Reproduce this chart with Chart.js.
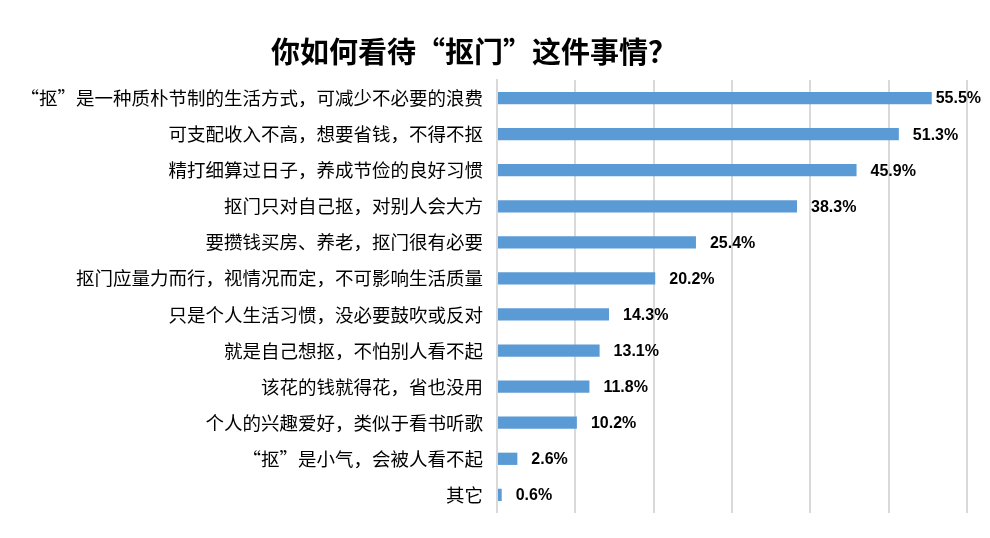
<!DOCTYPE html>
<html>
<head>
<meta charset="utf-8">
<script src="https://cdn.jsdelivr.net/npm/chart.js@4/dist/chart.umd.min.js"></script>
<style>
  body { margin: 0; background: #fff; }
  #wrap { width: 990px; height: 538px; position: relative; }
</style>
</head>
<body>
<div id="wrap"><canvas id="chart"></canvas></div>
<script>
// chart data
const chartTitle = '你如何看待“抠门”这件事情？';
const categories = [
  '“抠”是一种质朴节制的生活方式，可减少不必要的浪费',
  '可支配收入不高，想要省钱，不得不抠',
  '精打细算过日子，养成节俭的良好习惯',
  '抠门只对自己抠，对别人会大方',
  '要攒钱买房、养老，抠门很有必要',
  '抠门应量力而行，视情况而定，不可影响生活质量',
  '只是个人生活习惯，没必要鼓吹或反对',
  '就是自己想抠，不怕别人看不起',
  '该花的钱就得花，省也没用',
  '个人的兴趣爱好，类似于看书听歌',
  '“抠”是小气，会被人看不起',
  '其它'
];
const percentValues = [55.5, 51.3, 45.9, 38.3, 25.4, 20.2, 14.3, 13.1, 11.8, 10.2, 2.6, 0.6];
const axisMax = 60;
const axisStep = 10;

// draws the title and the value labels next to each bar
const labelPlugin = {
  id: 'barLabels',
  afterDraw(chart) {
    const ctx = chart.ctx;
    ctx.save();
    ctx.fillStyle = '#000';
    ctx.font = 'bold 29px "Noto Sans CJK SC"';
    ctx.textAlign = 'center';
    ctx.textBaseline = 'middle';
    ctx.fillText(chartTitle, 474, 52);

    ctx.font = 'bold 16px "Liberation Sans"';
    ctx.textAlign = 'left';
    const meta = chart.getDatasetMeta(0);
    meta.data.forEach(function(bar, i) {
      const text = percentValues[i].toFixed(1) + '%';
      const w = ctx.measureText(text).width;
      let x = bar.x + 14;
      if (x + w > 981) x = 981 - w;
      ctx.fillText(text, x, bar.y + 1);
    });
    ctx.restore();
  }
};

const ctx = document.getElementById('chart').getContext('2d');
const chart = new Chart(ctx, {
  type: 'bar',
  data: {
    labels: categories,
    datasets: [{
      data: percentValues,
      backgroundColor: '#5B9BD5',
      barPercentage: 0.34,
      categoryPercentage: 1
    }]
  },
  options: {
    indexAxis: 'y',
    responsive: true,
    maintainAspectRatio: false,
    animation: false,
    layout: { padding: { top: 80, bottom: 24, left: 0, right: 23 } },
    plugins: {
      legend: { display: false },
      tooltip: { enabled: false },
      title: { display: false }
    },
    scales: {
      x: {
        min: 0,
        max: axisMax,
        ticks: { display: false, stepSize: axisStep },
        grid: { color: '#d9d9d9', lineWidth: 2, drawTicks: false },
        border: { display: false }
      },
      y: {
        afterFit: function(scale) { scale.width = 497; },
        ticks: {
          color: '#000',
          padding: 14,
          font: { family: '"Noto Sans CJK SC"', size: 18.5 }
        },
        grid: { display: false, drawTicks: false },
        border: { color: '#d9d9d9', width: 2 }
      }
    }
  },
  plugins: [labelPlugin]
});
</script>
</body>
</html>
